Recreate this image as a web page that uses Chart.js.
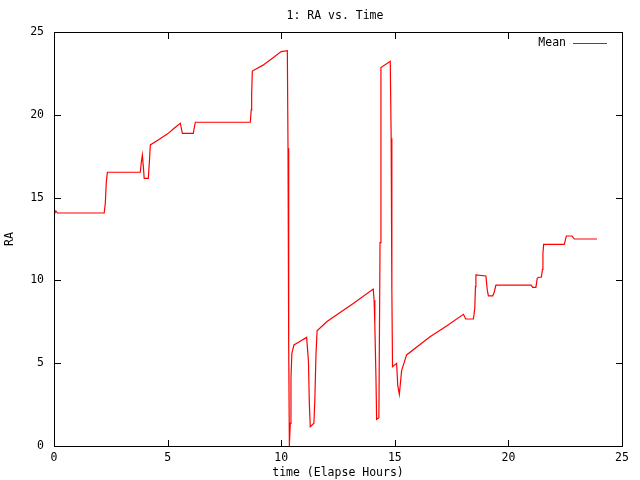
<!DOCTYPE html>
<html>
<head>
<meta charset="utf-8">
<title>1: RA vs. Time</title>
<script src="https://cdn.jsdelivr.net/npm/chart.js@4/dist/chart.umd.min.js"></script>
<style>
    html, body { margin: 0; padding: 0; background: #ffffff; }
    #wrap { width: 640px; height: 480px; position: relative; }
</style>
</head>
<body>
<div id="wrap"><canvas id="chartRa" width="640" height="480"></canvas></div>
<script>
(function () {
    'use strict';

    const hours = [
        0.00, 0.08, 0.15, 2.21, 2.26, 2.30, 2.35, 3.80, 3.84, 3.89, 3.93, 3.97,
        4.15, 4.20, 4.24, 4.60, 5.00, 5.30, 5.56, 5.65, 6.13, 6.22, 8.64, 8.68,
        8.70, 8.73, 9.20, 9.70, 10.00, 10.27, 10.30, 10.33, 10.36, 10.40, 10.43, 10.47,
        10.56, 10.80, 11.12, 11.20, 11.24, 11.28, 11.44, 11.48, 11.53, 11.58, 12.00, 13.17,
        14.05, 14.09, 14.12, 14.17, 14.20, 14.30, 14.35, 14.39, 14.80, 14.84, 14.87, 14.90,
        15.08, 15.13, 15.20, 15.30, 15.52, 16.55, 17.28, 18.02, 18.12, 18.46, 18.52, 18.55,
        18.57, 19.01, 19.07, 19.12, 19.31, 19.38, 19.45, 21.00, 21.07, 21.21, 21.27, 21.33,
        21.45, 21.50, 21.52, 21.55, 22.46, 22.55, 22.80, 22.90, 23.90
    ];
    const ra = [
        13.95, 14.20, 14.07, 14.07, 14.69, 15.90, 16.53, 16.53, 17.10, 17.57, 16.90, 16.16,
        16.16, 17.20, 18.18, 18.50, 18.85, 19.20, 19.49, 18.88, 18.88, 19.55, 19.55, 20.30,
        21.30, 22.64, 23.00, 23.50, 23.82, 23.87, 17.98, 6.00, 0.00, 1.37, 4.10, 5.60,
        6.10, 6.30, 6.56, 5.09, 2.48, 1.17, 1.37, 2.78, 5.50, 6.96, 7.50, 8.60,
        9.48, 8.80, 7.37, 4.19, 1.61, 1.71, 12.28, 22.85, 23.23, 18.58, 9.46, 4.79,
        4.99, 3.64, 3.12, 4.55, 5.50, 6.60, 7.25, 7.95, 7.67, 7.67, 8.31, 9.62,
        10.33, 10.27, 9.42, 9.06, 9.06, 9.30, 9.72, 9.72, 9.58, 9.58, 10.12, 10.19,
        10.19, 10.67, 11.63, 12.17, 12.17, 12.68, 12.68, 12.50, 12.50
    ];
    const xTicks = [0, 5, 10, 15, 20, 25];
    const yTicks = [0, 5, 10, 15, 20, 25];

    const FONT = { family: "'DejaVu Sans Mono', 'Liberation Mono', monospace", size: 11.5 };

    function pointsFrom(xs, ys) {
        return xs.map(function (x, i) {
            return { x: x, y: ys[i] };
        });
    }

    function useTicks(values) {
        return function (scale) {
            scale.ticks = values.map(function (v) {
                return { value: v };
            });
        };
    }

    // gnuplot look: boxed frame, ticks pointing inwards on all four sides, title and key
    const gnuplotFrame = {
        id: 'gnuplotFrame',
        afterDraw: function (chart) {
            const ctx = chart.ctx;
            const area = chart.chartArea;
            const sx = chart.scales.x;
            const sy = chart.scales.y;
            const len = 6;
            const left = Math.round(area.left);
            const right = Math.round(area.right);
            const top = Math.round(area.top);
            const bottom = Math.round(area.bottom);

            ctx.save();
            ctx.fillStyle = '#000000';
            ctx.fillRect(left, top, right - left + 1, 1);
            ctx.fillRect(left, bottom, right - left + 1, 1);
            ctx.fillRect(left, top, 1, bottom - top + 1);
            ctx.fillRect(right, top, 1, bottom - top + 1);

            xTicks.forEach(function (v) {
                const px = Math.round(sx.getPixelForValue(v));
                ctx.fillRect(px, bottom - len, 1, len);
                ctx.fillRect(px, top, 1, len + 1);
            });
            yTicks.forEach(function (v) {
                const py = Math.round(sy.getPixelForValue(v));
                ctx.fillRect(left, py, len + 1, 1);
                ctx.fillRect(right - len, py, len + 1, 1);
            });

            ctx.font = FONT.size + 'px ' + FONT.family;
            ctx.textBaseline = 'middle';
            ctx.textAlign = 'center';
            ctx.fillText('1: RA vs. Time', 335, 16);

            ctx.textAlign = 'right';
            ctx.fillText('Mean', 566, 43);
            ctx.fillStyle = '#ff0000';
            ctx.fillRect(573, 43, 34, 1);
            ctx.restore();
        }
    };

    new Chart(document.getElementById('chartRa'), {
        type: 'line',
        data: {
            datasets: [{
                label: 'Mean',
                data: pointsFrom(hours, ra),
                borderColor: '#ff0000',
                borderWidth: 1.2,
                pointRadius: 0,
                tension: 0,
                fill: false
            }]
        },
        options: {
            responsive: false,
            animation: false,
            layout: { padding: { top: 32, right: 18, left: 0, bottom: 0 } },
            plugins: {
                legend: { display: false },
                title: { display: false },
                tooltip: { enabled: false }
            },
            scales: {
                x: {
                    type: 'linear',
                    min: 0,
                    max: 25,
                    afterBuildTicks: useTicks(xTicks),
                    afterFit: function (scale) { scale.height = 34; },
                    grid: { display: false, drawTicks: false },
                    border: { display: false },
                    ticks: { color: '#000000', font: FONT, padding: 5, maxRotation: 0 },
                    title: { display: true, text: 'time (Elapse Hours)', color: '#000000', font: FONT, padding: { top: 2, bottom: 0 } }
                },
                y: {
                    type: 'linear',
                    min: 0,
                    max: 25,
                    afterBuildTicks: useTicks(yTicks),
                    afterFit: function (scale) { scale.width = 54; },
                    grid: { display: false, drawTicks: false },
                    border: { display: false },
                    ticks: { color: '#000000', font: FONT, padding: 10 },
                    title: { display: true, text: 'RA', color: '#000000', font: FONT, padding: { top: 3, bottom: 0 } }
                }
            }
        },
        plugins: [gnuplotFrame]
    });
})();
</script>
</body>
</html>
